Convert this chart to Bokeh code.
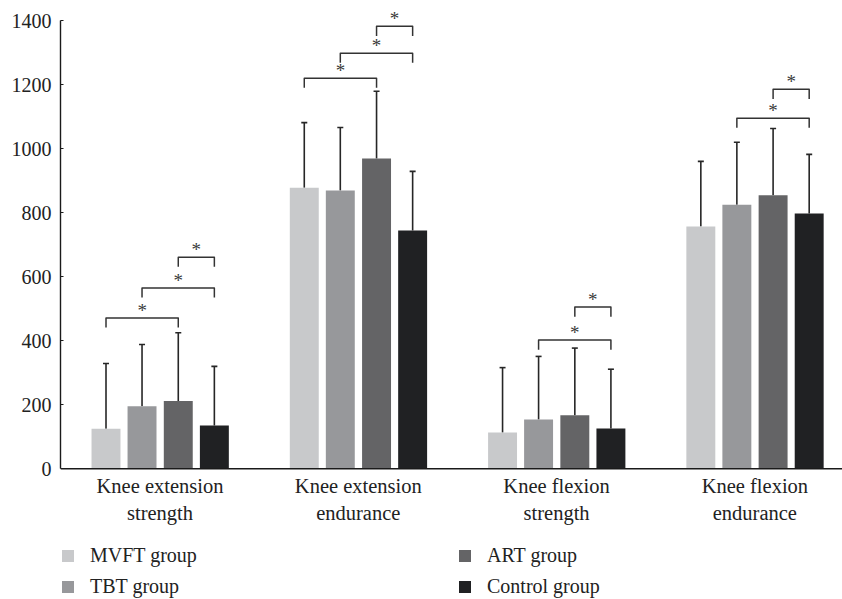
from bokeh.plotting import figure
from bokeh.models import (ColumnDataSource, Range1d, FixedTicker, Whisker, TeeHead,
                          Legend, LegendItem, Span)
from bokeh.core.properties import value
from bokeh.embed import file_html
from bokeh.resources import INLINE

# ---------------- data ----------------
categories = ["Knee extension\nstrength", "Knee extension\nendurance",
              "Knee flexion\nstrength", "Knee flexion\nendurance"]
series_names = ["MVFT group", "TBT group", "ART group", "Control group"]
mvft_mean = [125, 878, 113, 757]
tbt_mean = [195, 869, 154, 825]
art_mean = [212, 969, 167, 854]
control_mean = [135, 744, 126, 797]
mvft_sd = [204, 203, 203, 203]
tbt_sd = [193, 197, 197, 195]
art_sd = [213, 210, 210, 209]
control_sd = [185, 185, 185, 185]
y_ticks = [0, 200, 400, 600, 800, 1000, 1200, 1400]
# significance brackets: (category index, from series, to series, bracket height)
bracket_group = [0, 0, 0, 1, 1, 1, 2, 2, 3, 3]
bracket_from = [0, 1, 2, 0, 1, 2, 1, 2, 1, 2]
bracket_to = [2, 3, 3, 2, 3, 3, 3, 3, 3, 3]
bracket_height = [471, 565, 661, 1220, 1298, 1382, 402, 505, 1095, 1185]

means = [mvft_mean, tbt_mean, art_mean, control_mean]
sds = [mvft_sd, tbt_sd, art_sd, control_sd]
colors = ["#C8C9CB", "#97989B", "#646466", "#202123"]

FONT = "Liberation Serif"
offsets = [-0.2725, -0.0908, 0.0920, 0.2740]
bar_w = 0.146

W, H = 842, 598
LEFT = 60
ZERO_PX = 468.3          # pixel row of y = 0
PX_PER_UNIT = 0.3202     # pixels per data unit on y
y_top = ZERO_PX / PX_PER_UNIT
y_bottom = -(H - ZERO_PX) / PX_PER_UNIT


def px_to_y(py):
    return (ZERO_PX - py) / PX_PER_UNIT


p = figure(width=W, height=H, output_backend="svg", toolbar_location=None,
           x_range=Range1d(-0.502, 3.442), y_range=Range1d(y_bottom, y_top),
           x_axis_type=None,
           min_border_left=LEFT, min_border_right=0, min_border_top=0,
           min_border_bottom=0)
p.outline_line_color = None
p.grid.visible = False
p.background_fill_color = "white"
p.border_fill_color = "white"

renderers = []
for k in range(4):
    xs = [i + offsets[k] for i in range(4)]
    src = ColumnDataSource(dict(x=xs, top=means[k],
                                upper=[m + s for m, s in zip(means[k], sds[k])]))
    w = Whisker(base="x", upper="upper", lower="top", source=src,
                line_color="#262626", line_width=1.6,
                upper_head=TeeHead(size=6, line_color="#262626", line_width=1.6),
                lower_head=None)
    p.add_layout(w)
    r = p.vbar(x="x", top="top", bottom=0, width=bar_w, source=src,
               fill_color=colors[k], line_color=None)
    renderers.append(r)

# x axis line at y = 0 across the full plot width
p.add_layout(Span(location=0, dimension="width", line_color="#1a1a1a", line_width=1.4))

# category labels under the axis
p.text(x=list(range(4)), y=[px_to_y(474)] * 4, text=categories,
       text_font=value(FONT), text_font_size="20.5px", text_align="center",
       text_baseline="top", text_line_height=1.25, text_color="#222222")

# brackets
bx, by, sx, sy = [], [], [], []
leg = 30
for g, a, b, h in zip(bracket_group, bracket_from, bracket_to, bracket_height):
    x1 = g + offsets[a]
    x2 = g + offsets[b]
    bx.append([x1, x1, x2, x2])
    by.append([h - leg, h, h, h - leg])
    sx.append((x1 + x2) / 2)
    sy.append(h + 23)
p.multi_line(bx, by, line_color="#333333", line_width=1.5, line_join="round")
p.text(x=sx, y=sy, text=["*"] * len(sx), text_font=value(FONT),
       text_font_size="19px", text_align="center", text_baseline="alphabetic",
       text_color="#3a3a3a")

# y axis
yax = p.yaxis[0]
yax.ticker = FixedTicker(ticks=y_ticks)
yax.bounds = (0, 1400)
yax.major_tick_in = 3
yax.major_tick_out = 0
yax.minor_tick_line_color = None
yax.axis_line_color = "#1a1a1a"
yax.axis_line_width = 1.4
yax.major_tick_line_color = "#1a1a1a"
yax.major_tick_line_width = 1.2
yax.major_label_text_font = FONT
yax.major_label_text_font_size = "20px"
yax.major_label_text_color = "#222222"
yax.major_label_standoff = 9


# legends
def make_legend(items, loc):
    lg = Legend(items=items, location=loc, orientation="vertical",
                border_line_color=None, background_fill_alpha=0,
                padding=0, margin=0, spacing=8,
                glyph_width=15, glyph_height=15, label_standoff=15,
                label_height=20,
                label_text_font=FONT, label_text_font_size="20px",
                label_text_color="#222222")
    p.add_layout(lg, "center")


make_legend([LegendItem(label=series_names[0], renderers=[renderers[0]]),
             LegendItem(label=series_names[1], renderers=[renderers[1]])], (0, 0))
make_legend([LegendItem(label=series_names[2], renderers=[renderers[2]]),
             LegendItem(label=series_names[3], renderers=[renderers[3]])], (397, 0))

open("out.html", "w").write(file_html(p, INLINE))
